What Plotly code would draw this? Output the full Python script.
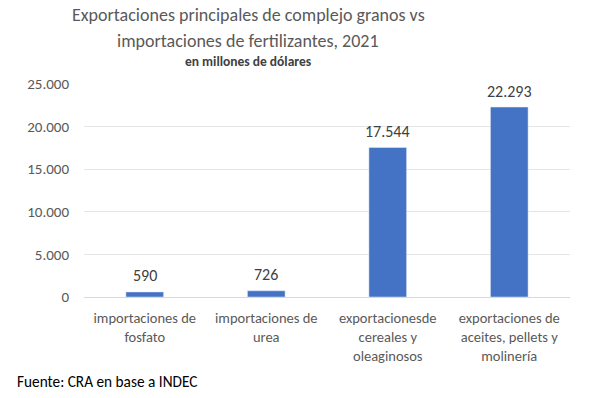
import plotly.graph_objects as go

categories = ["importaciones de<br>fosfato", "importaciones de<br>urea",
              "exportacionesde<br>cereales y<br>oleaginosos",
              "exportaciones de<br>aceites, pellets y<br>molinería"]
values = [590, 726, 17544, 22293]
tick_vals = [0, 5000, 10000, 15000, 20000, 25000]

FONT = "Carlito, Lato, sans-serif"
W, H = 594, 398
L, R, T, B = 84, 570, 84, 297  # plot area in pixels
pw, ph = R - L, B - T


def px(x):
    return (x - L) / pw


def py(y):
    return (B - y) / ph


fig = go.Figure(go.Bar(
    x=categories, y=values,
    marker_color="#4472C4", width=0.31,
    hoverinfo="x+y",
))

# value labels above the bars
for c, v in zip(categories, values):
    fig.add_annotation(x=c, y=v, xref="x", yref="y", text=f"{v:,}".replace(",", "."),
                       showarrow=False, yanchor="middle", yshift=16,
                       font=dict(family=FONT, size=16, color="#404040"))

fig.add_annotation(text="Exportaciones principales de complejo granos vs",
                   x=px(248), y=py(15), xref="paper", yref="paper", yanchor="middle",
                   showarrow=False, font=dict(size=18, color="#595959", family=FONT))
fig.add_annotation(text="importaciones de fertilizantes, 2021",
                   x=px(248), y=py(41), xref="paper", yref="paper", yanchor="middle",
                   showarrow=False, font=dict(size=18, color="#595959", family=FONT))
fig.add_annotation(text="<b>en millones de dólares</b>",
                   x=px(248), y=py(61), xref="paper", yref="paper", yanchor="middle",
                   showarrow=False, font=dict(size=13.5, color="#404040", family=FONT))
fig.add_annotation(text="Fuente: CRA en base a INDEC",
                   x=px(15), y=py(381), xref="paper", yref="paper", xanchor="left",
                   yanchor="middle", showarrow=False,
                   font=dict(size=15.3, color="#000000", family=FONT))

fig.update_layout(
    width=W, height=H,
    margin=dict(l=L, r=W - R, t=T, b=H - B),
    paper_bgcolor="white", plot_bgcolor="white",
    separators=",.",
    showlegend=False,
    font=dict(family=FONT, color="#595959"),
    xaxis=dict(tickfont=dict(size=14.5, color="#595959"), showline=True,
               linecolor="#D9D9D9", ticks="", showgrid=False, automargin=False,
               ticklabelstandoff=8),
    yaxis=dict(range=[0, 25000], tickvals=tick_vals, tickformat=",d",
               tickfont=dict(size=15, color="#595959"), showgrid=True,
               gridcolor="#E5E5E5", zeroline=False, ticks="", automargin=False,
               ticklabelstandoff=14),
)

fig.write_html("out.html", config={"displayModeBar": False},
               post_script="document.body.style.margin='0';")
